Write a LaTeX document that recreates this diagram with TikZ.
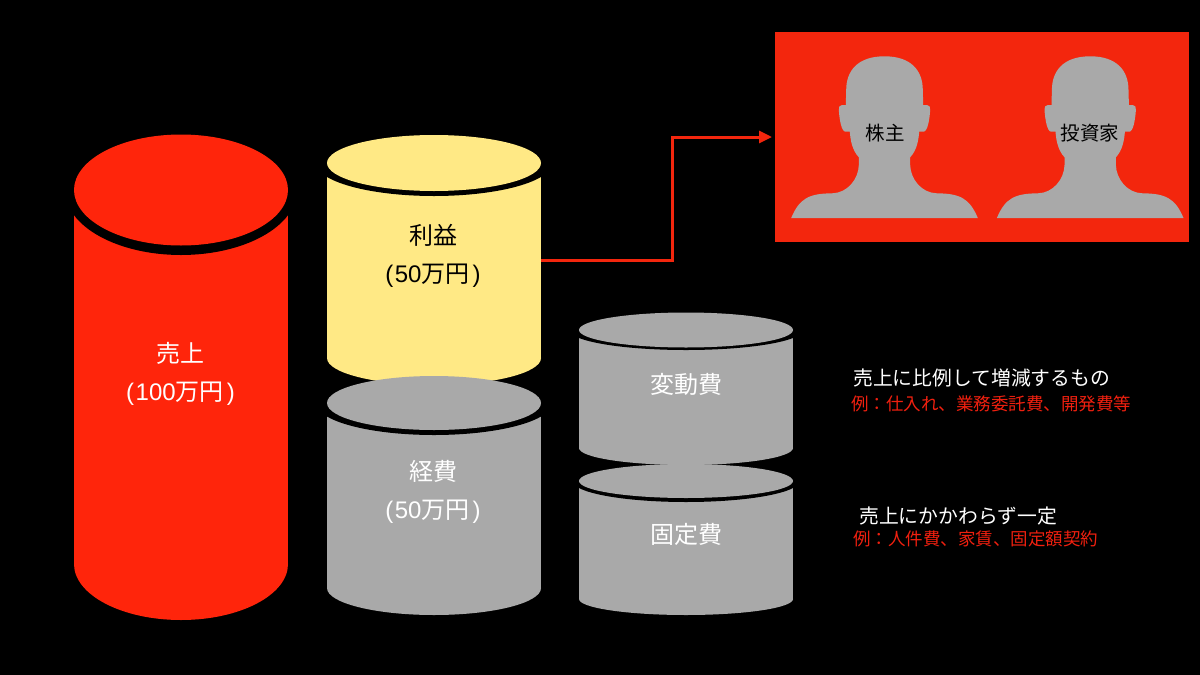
\documentclass[tikz,border=0pt]{standalone}
\usepackage{fontspec}
\usetikzlibrary{arrows.meta}
\setmainfont{Noto Sans CJK JP}
\newfontfamily\latinface{Liberation Sans}
\definecolor{salesred}{HTML}{FF250B}
\definecolor{panelred}{HTML}{F3260D}
\definecolor{noteRed}{HTML}{F0200F}
\definecolor{profitgold}{HTML}{FFE985}
\definecolor{costgrey}{HTML}{A9A9A9}
\tikzset{
  canbody/.style={rectangle,inner sep=0pt,outer sep=0pt,minimum width=214pt},
  biglabel/.style={inner sep=0pt,align=center,font=\fontsize{24}{38}\selectfont},
  notehead/.style={inner sep=0pt,anchor=west,text=white,font=\fontsize{19.8}{24}\selectfont},
  notebody/.style={inner sep=0pt,anchor=west,text=noteRed,font=\fontsize{17.5}{21}\selectfont},
  facelabel/.style={inner sep=0pt,text=black,font=\fontsize{19.5}{24}\selectfont},
  flow/.style={draw=panelred,line width=3pt,shorten >=3pt,-{Triangle[length=13pt,width=12pt]}}
}
% An amount in brackets, with roomy bracket spacing.
\newcommand{\sumlabel}[1]{{\latinface(\kern1.5pt #1}万円\kern3pt{\latinface)}}
% A can: body node, rounded base, dark crescent under the lid, then the lid.
% #1 name, #2 colour, #3 centre x, #4 lid y, #5 wall end y, #6 lid ry, #7 base ry, #8 crescent rx, #9 crescent ry
\newcommand{\tub}[9]{%
  \fill[#2] (#3,#5) ellipse [x radius=107,y radius=#7];
  \node[canbody,fill=#2,minimum height={(#5-#4)*1pt}] (#1) at ({#3},{(#4+#5)/2}) {};
  \fill[black] ({#3-#8},#4) arc [start angle=180,end angle=0,x radius=#8,y radius=#9] -- cycle;
  \fill[#2] (#3,#4) ellipse [x radius=107,y radius=#6];
}
% Head-and-shoulders silhouette centred on a given x; y values are absolute.
\newcommand{\bust}[1]{%
  \fill[costgrey,shift={(#1,0)}]
    (0,56.3) .. controls (27,56.3) and (38.3,71) .. (38.3,90)
    -- (38.7,105) -- (42.3,105)
    .. controls (45,105) and (46,107) .. (45.7,110)
    .. controls (45,120) and (43,131.7) .. (39,131.7)
    -- (34.7,131.7)
    .. controls (34,140) and (32.5,150) .. (25.7,157.3)
    -- (25.7,165)
    .. controls (26,179) and (37,193) .. (52.3,193.3)
    .. controls (75,193.5) and (85,198) .. (93.3,218)
    -- (-93.3,218)
    .. controls (-85,198) and (-75,193.5) .. (-52.3,193.3)
    .. controls (-37,193) and (-26,179) .. (-25.7,165)
    -- (-25.7,157.3)
    .. controls (-32.5,150) and (-34,140) .. (-34.7,131.7)
    -- (-39,131.7)
    .. controls (-43,131.7) and (-45,120) .. (-45.7,110)
    .. controls (-46,107) and (-45,105) .. (-42.3,105)
    -- (-38.7,105) -- (-38.3,90)
    .. controls (-38.3,71) and (-27,56.3) .. (0,56.3) -- cycle;
}
\begin{document}
\begin{tikzpicture}[x=1pt,y=-1pt]
  \fill[black] (0,0) rectangle (1200,675);
  \useasboundingbox (0,0) rectangle (1200,675);

  % Stacked cans
  \tub{sales}{salesred}{181}{190}{564}{55.5}{56}{116}{65}
  \tub{profit}{profitgold}{434}{163}{358}{28}{27}{118}{33}
  \tub{costs}{costgrey}{434}{403}{588}{27}{27}{118}{32}
  \tub{variable}{costgrey}{686}{330}{448}{17.5}{17}{116.7}{20}
  \tub{fixed}{costgrey}{686}{481}{599}{17}{16}{113.5}{21}

  % Can labels
  \node[biglabel,text=white] (saleslabel) at (180.5,373.5) {売上\\\sumlabel{100}};
  \node[biglabel,text=black] (profitlabel) at (433,256) {利益\\\sumlabel{50}};
  \node[biglabel,text=white] (costlabel) at (433,492) {経費\\\sumlabel{50}};
  \node[biglabel,text=white] (variablelabel) at (686,384) {変動費};
  \node[biglabel,text=white] (fixedlabel) at (686,534) {固定費};

  % Recipients of the profit
  \node[rectangle,fill=panelred,inner sep=0pt,outer sep=0pt,minimum width=414pt,minimum height=210pt] (panel) at (982,137) {};
  \bust{884.5}
  \bust{1090.2}
  \node[facelabel] (holder) at (885,133) {株主};
  \node[facelabel] (investor) at (1090,133) {投資家};

  % Flow from profit to recipients
  \draw[flow] (profit.east) -- ++(131,0) |- (panel.west);

  % Explanatory notes
  \node[notehead] (varnote) at (853,378) {売上に比例して増減するもの};
  \node[notebody] (varexample) at (851,404) {例：仕入れ、業務委託費、開発費等};
  \node[notehead] (fixnote) at (859,516.5) {売上にかかわらず一定};
  \node[notebody] (fixexample) at (853,539) {例：人件費、家賃、固定額契約};
\end{tikzpicture}
\end{document}
